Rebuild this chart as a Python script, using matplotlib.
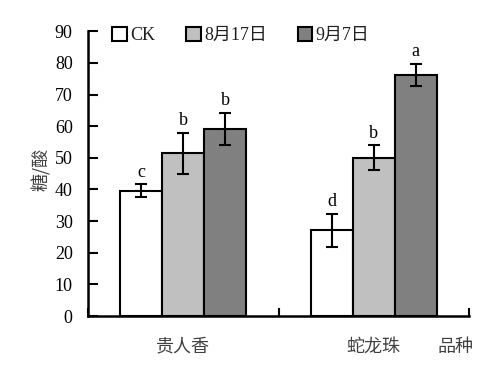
import matplotlib
matplotlib.use("Agg")
import matplotlib.pyplot as plt
import numpy as np

plt.rcParams['font.family'] = ['Liberation Serif', 'Noto Sans CJK SC']

categories = ['贵人香', '蛇龙珠']
series = ['CK', '8月17日', '9月7日']
values = [[39.6, 27.1], [51.4, 50.0], [59.1, 76.3]]
errors = [[2.0, 5.3], [6.5, 3.9], [5.2, 3.5]]
letters = [['c', 'd'], ['b', 'b'], ['b', 'a']]
colors = ['#ffffff', '#c0c0c0', '#808080']
yticks = [0, 10, 20, 30, 40, 50, 60, 70, 80, 90]

fig = plt.figure(figsize=(5.0, 3.68), dpi=100)
ax = fig.add_axes([0.176, 0.1413, 0.762, 0.7737])

x = np.arange(len(categories)) + 0.5
w = 0.22
handles = []
for i, s in enumerate(series):
    xs = x + (i - 1) * w
    b = ax.bar(xs, values[i], width=w, color=colors[i], edgecolor='black',
               linewidth=1.5, label=s, zorder=2)
    handles.append(b)
    ax.errorbar(xs, values[i], yerr=errors[i], fmt='none', ecolor='black',
                elinewidth=1.5, capsize=4, capthick=1.5, zorder=3)
    for xi, v, e, t in zip(xs, values[i], errors[i], letters[i]):
        ax.text(xi, v + e + 1.2, t, ha='center', va='bottom', fontsize=13)

ax.set_xlim(0, 2)
ax.set_ylim(0, 90)
ax.set_yticks(yticks)
ax.set_xticks([0, 1, 2])
ax.set_xticklabels(['', '', ''])
ax.tick_params(axis='y', direction='in', length=7, width=1.5, labelsize=13, pad=11)
ax.tick_params(axis='x', direction='in', length=6, width=1.5)
for sp in ['top', 'right']:
    ax.spines[sp].set_visible(False)
for sp in ['left', 'bottom']:
    ax.spines[sp].set_linewidth(1.8)

for xi, c in zip(x, categories):
    ax.text(xi, -9.8, c, ha='center', va='center', fontsize=13, color='#404040',
            clip_on=False)
ax.text(2.0 - 0.07, -9.8, '品种', ha='center', va='center', fontsize=13,
        color='#404040', clip_on=False)

fig.text(0.082, 0.54, '糖/酸', rotation=90, ha='center', va='center',
         fontsize=13, color='#404040', family=['Noto Sans CJK SC', 'DejaVu Sans'])

leg = ax.legend(handles=handles, loc='upper left', bbox_to_anchor=(0.045, 1.04),
                ncol=3, frameon=False, handlelength=0.8, handleheight=0.8,
                handletextpad=0.2, columnspacing=1.7, fontsize=13,
                borderaxespad=0)
for t in leg.get_texts():
    t.set_color('#202020')

fig.savefig('out.png', dpi=100)
